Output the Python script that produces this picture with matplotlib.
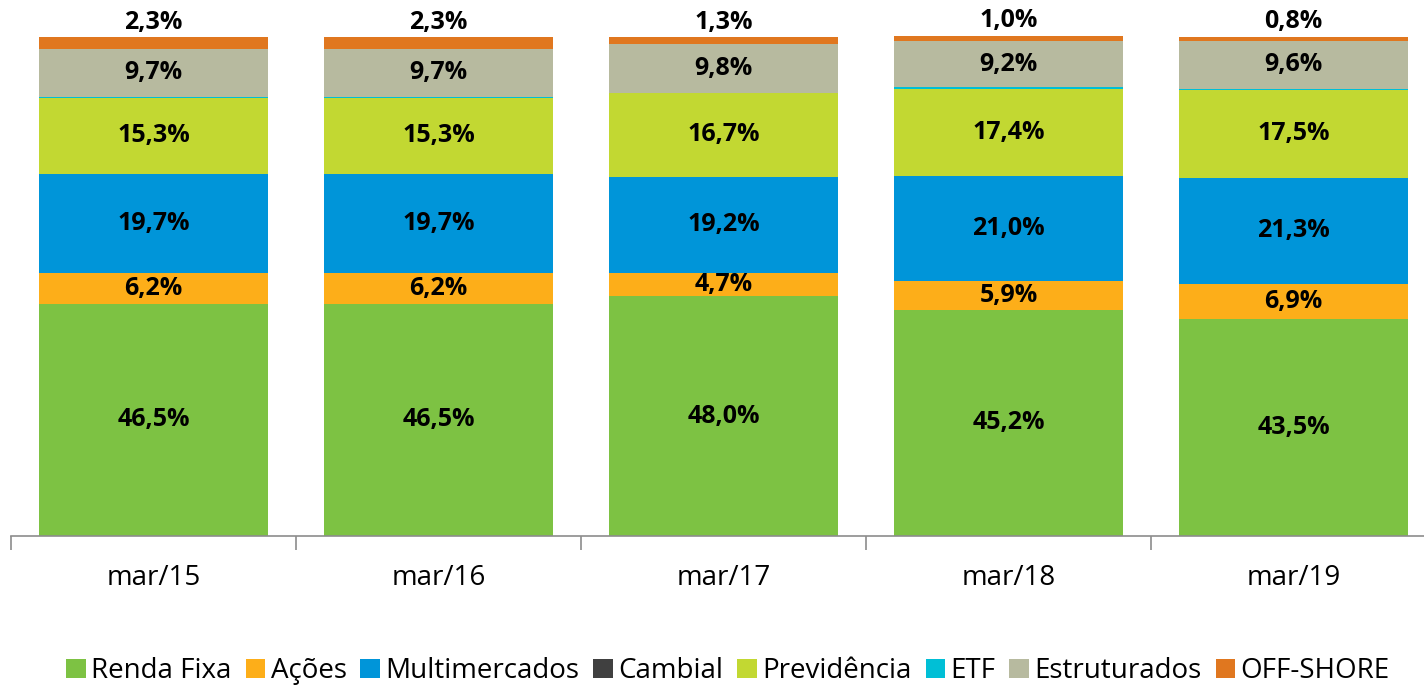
import matplotlib
matplotlib.use("Agg")
import matplotlib.pyplot as plt
import numpy as np

categories = ["mar/15", "mar/16", "mar/17", "mar/18", "mar/19"]
renda_fixa = [46.5, 46.5, 48.0, 45.2, 43.5]
acoes = [6.2, 6.2, 4.7, 5.9, 6.9]
multimercados = [19.7, 19.7, 19.2, 21.0, 21.3]
cambial = [0.0, 0.0, 0.0, 0.0, 0.0]
previdencia = [15.3, 15.3, 16.7, 17.4, 17.5]
etf = [0.1, 0.1, 0.1, 0.3, 0.3]
estruturados = [9.7, 9.7, 9.8, 9.2, 9.6]
offshore = [2.3, 2.3, 1.3, 1.0, 0.8]

series = [
    ("Renda Fixa", renda_fixa, "#7DC243", True),
    ("Ações", acoes, "#FDAE19", True),
    ("Multimercados", multimercados, "#0095D9", True),
    ("Cambial", cambial, "#404040", False),
    ("Previdência", previdencia, "#C2D832", True),
    ("ETF", etf, "#00BFD6", False),
    ("Estruturados", estruturados, "#B7BA9F", True),
    ("OFF-SHORE", offshore, "#E0771F", "top"),
]

plt.rcParams['font.family'] = ['Open Sans', 'DejaVu Sans']

fig = plt.figure(figsize=(14.24, 6.87), dpi=100)
ax = fig.add_axes([11/1424, (687-536)/687, 1425/1424, 500/687])

x = np.arange(len(categories))
bottom = np.zeros(len(categories))
handles = []
for name, vals, color, lab in series:
    vals = np.array(vals)
    b = ax.bar(x, vals, width=0.807, bottom=bottom, color=color, label=name, linewidth=0)
    handles.append(b)
    for i, v in enumerate(vals):
        txt = f"{v:.1f}%".replace(".", ",")
        if lab is True:
            ax.text(x[i], bottom[i] + v / 2, txt, ha="center", va="center",
                    fontsize=18, fontweight="bold", color="black")
        elif lab == "top":
            ax.text(x[i], bottom[i] + v + 0.5, txt, ha="center", va="bottom",
                    fontsize=18, fontweight="bold", color="black")
    bottom += vals

ax.set_xlim(-0.5, len(categories) - 0.5)
ax.set_ylim(0, 100)
for s in ["top", "right", "left"]:
    ax.spines[s].set_visible(False)
ax.spines["bottom"].set_color("#8C8C8C")
ax.spines["bottom"].set_linewidth(1.2)
ax.set_yticks([])
ax.set_xticks(np.arange(len(categories) + 1) - 0.5, minor=True)
ax.tick_params(axis="x", which="minor", length=10, color="#8C8C8C", width=1.2, direction="out")
ax.set_xticks(x)
ax.set_xticklabels(categories, fontsize=20)
ax.tick_params(axis="x", which="major", length=0, pad=20)

fig.legend(handles=handles, labels=[s[0] for s in series], loc="center",
           bbox_to_anchor=(728/1424, (687-671)/687), ncol=8, frameon=False,
           fontsize=20, handlelength=0.7, handleheight=0.7, handletextpad=0.2,
           columnspacing=0.5, borderaxespad=0)

fig.savefig("out.png", dpi=100)
